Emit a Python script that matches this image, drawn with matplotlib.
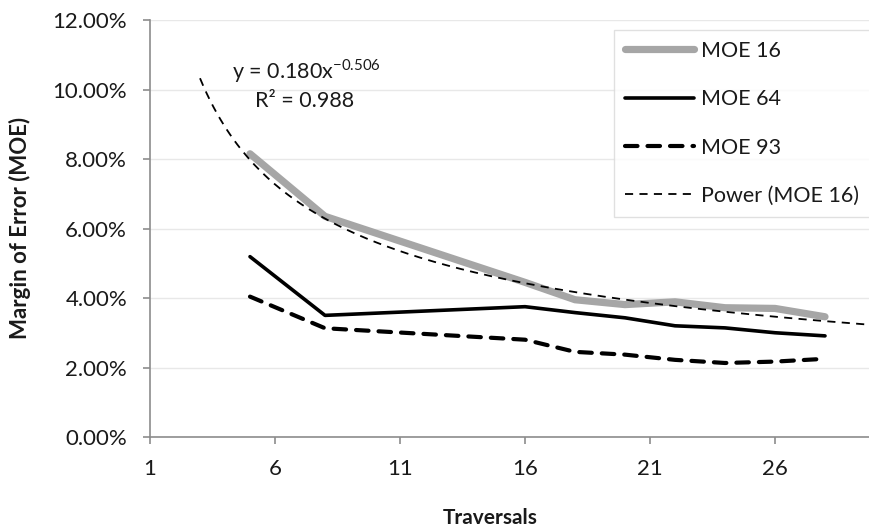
import matplotlib

matplotlib.use("Agg")
import matplotlib.pyplot as plt
import numpy as np
from matplotlib.ticker import FuncFormatter

plt.rcParams["font.family"] = ["Lato", "DejaVu Sans"]
plt.rcParams["mathtext.fontset"] = "custom"
plt.rcParams["mathtext.rm"] = "Lato"

# --- data ------------------------------------------------------------------
traversals = [5, 8, 16, 18, 20, 22, 24, 26, 28]
moe_16 = [8.15, 6.35, 4.45, 3.95, 3.81, 3.89, 3.72, 3.70, 3.46]
moe_64 = [5.19, 3.50, 3.75, 3.58, 3.43, 3.20, 3.14, 3.00, 2.91]
moe_93 = [4.04, 3.13, 2.80, 2.45, 2.37, 2.22, 2.13, 2.17, 2.25]

# power trend fitted to MOE 16, drawn 2 units beyond the data on each side
fit_a, fit_b, fit_r2 = 0.180, -0.506, 0.988
trend_range = (3, 30)

x_ticks = [1, 6, 11, 16, 21, 26]
y_ticks = [0, 2, 4, 6, 8, 10, 12]
# ---------------------------------------------------------------------------

W, H = 870, 531
fig = plt.figure(figsize=(W / 100, H / 100), dpi=100)
ax = fig.add_axes([150 / W, (H - 437) / H, 750 / W, 417 / H])

ax.plot(traversals, moe_16, color="#a6a6a6", lw=5.2, solid_capstyle="round",
        solid_joinstyle="round", label="MOE 16", zorder=3)
ax.plot(traversals, moe_64, color="black", lw=2.6, solid_capstyle="round",
        solid_joinstyle="round", label="MOE 64", zorder=4)
ax.plot(traversals, moe_93, color="black", lw=3.0, ls=(0, (3.0, 2.4)),
        dash_capstyle="round", label="MOE 93", zorder=4)

xt = np.linspace(*trend_range, 200)
ax.plot(xt, fit_a * 100 * xt ** fit_b, color="black", lw=1.3, ls=(0, (4.5, 3.5)),
        label="Power (MOE 16)", zorder=5)

ax.set_xlim(1, 31)
ax.set_ylim(0, 12)
ax.set_xticks(x_ticks)
ax.set_yticks(y_ticks)
ax.yaxis.set_major_formatter(FuncFormatter(lambda v, _: f"{v:.2f}%"))
ax.grid(axis="y", color="#e8e8e8", lw=1.0)
ax.set_axisbelow(True)

for side in ("top", "right"):
    ax.spines[side].set_visible(False)
for side in ("left", "bottom"):
    ax.spines[side].set_color("#8c8c8c")
    ax.spines[side].set_linewidth(1.2)
ax.tick_params(axis="both", colors="#8c8c8c", length=5, width=1.2,
               labelsize=16, labelcolor="#1a1a1a")
ax.tick_params(axis="y", pad=11.5)
ax.tick_params(axis="x", pad=11)

fig.text(20 / W, 1 - 228 / H, "Margin of Error (MOE)", rotation=90,
         fontsize=16, fontweight="bold", color="#1a1a1a",
         ha="center", va="center")
fig.text(490 / W, 1 - 518 / H, "Traversals", fontsize=15, fontweight="bold",
         color="#1a1a1a", ha="center", va="center")

fig.text(306 / W, 1 - 71 / H, r"y = 0.180x$^{\mathregular{%.3f}}$" % fit_b,
         fontsize=15.5, ha="center", va="center", color="#1a1a1a")
fig.text(305 / W, 1 - 101 / H, f"R² = {fit_r2:.3f}", fontsize=15.5,
         ha="center", va="center", color="#1a1a1a")

leg = ax.legend(loc="upper left", bbox_to_anchor=(464 / 750, 1 - 10 / 417),
                frameon=True, fancybox=False, fontsize=15.5, handlelength=3.2,
                handletextpad=0.35, labelspacing=1.32, borderpad=0.5,
                borderaxespad=0)
leg.get_frame().set_edgecolor("#d9d9d9")
leg.get_frame().set_linewidth(1.0)
for t in leg.get_texts():
    t.set_color("#1a1a1a")

fig.savefig("out.png", dpi=100)
